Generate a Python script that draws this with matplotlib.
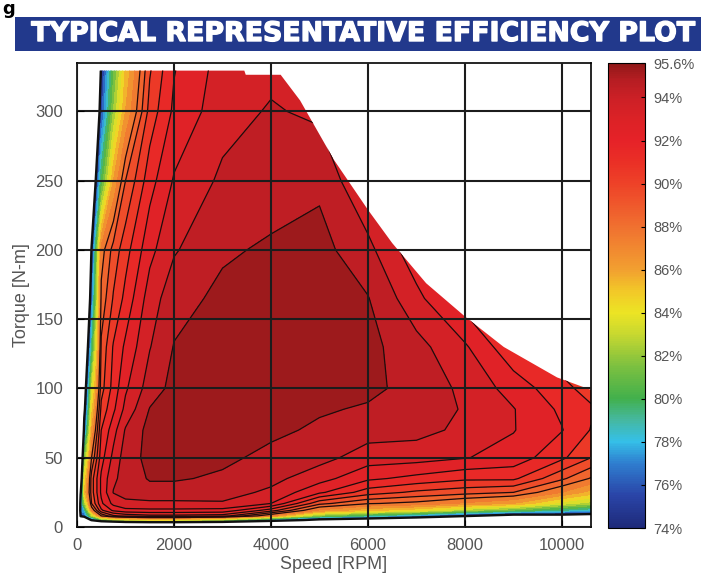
import numpy as np
import matplotlib
matplotlib.use("Agg")
import matplotlib.pyplot as plt
from matplotlib.colors import LinearSegmentedColormap, Normalize
from matplotlib.patches import Polygon, Rectangle
import matplotlib.patheffects as pe
import matplotlib.cm as cm

plt.rcParams['font.family'] = ['Liberation Sans', 'DejaVu Sans']

# efficiency map, rows = torque, columns = speed
speed = [0, 75, 150, 300, 500, 750, 1000, 1500, 2000, 3000, 4000, 5000, 6000, 7000, 8000, 9000, 10000, 10600]
torque = [0, 3, 5, 8, 12, 17, 25, 35, 50, 70, 85, 100, 130, 165, 200, 250, 300, 335]
eff = [
    [50, 50, 50, 52, 54, 55, 56, 56, 56, 56, 54, 52, 50, 48, 46, 44, 42, 40],
    [50, 60, 58, 64, 66, 68, 70, 71, 71, 70, 67, 66, 64, 62, 60, 58, 57, 55],
    [50, 68, 66, 74.5, 80, 82, 83, 84, 84, 82, 77, 72.5, 71, 69, 67, 66, 65, 64],
    [50, 74.5, 76, 82, 88, 89.8, 90.3, 90.7, 90.7, 90.5, 87, 81.3, 79, 77, 74.3, 72, 72.5, 72],
    [50, 77, 78, 87, 90.8, 92.2, 92.7, 92.8, 92.8, 92.7, 90.5, 86.8, 85.2, 84.3, 82.3, 80.8, 79, 78],
    [50, 76.5, 82, 89, 91.8, 93.3, 93.8, 93.8, 93.8, 93.9, 93.0, 89.3, 88.1, 87.7, 86.8, 86, 83.5, 82.5],
    [50, 73.5, 85, 89.5, 92.2, 94.05, 94.3, 94.6, 94.6, 94.4, 93.8, 92.2, 90.5, 89.8, 89.4, 89, 87, 85.6],
    [50, 70, 84, 89.5, 92.2, 93.8, 94.4, 95.1, 95.1, 94.85, 94.3, 93.4, 92.2, 91.7, 91.2, 91.2, 89.2, 87.9],
    [50, 66, 81, 88, 91.6, 93.3, 94.5, 95.3, 95.4, 95.2, 94.75, 94.35, 93.5, 93.4, 93.05, 92.6, 91.2, 90],
    [50, 62, 75.5, 86, 91, 92.6, 94.1, 95.35, 95.5, 95.45, 95.2, 94.85, 94.45, 94.35, 93.75, 93.05, 92.05, 90.95],
    [50, 60, 73, 84.5, 90.3, 91.8, 93.3, 95.05, 95.45, 95.5, 95.4, 95.1, 94.9, 94.6, 93.9, 93.05, 91.8, 91.15],
    [50, 58, 71.5, 83, 89.6, 91.4, 92.85, 94.5, 95.3, 95.5, 95.5, 95.3, 95.2, 94.7, 93.75, 92.6, 91.3, 90.6],
    [50, 56, 69, 79, 89.2, 91.1, 92.2, 93.95, 95.05, 95.5, 95.55, 95.4, 95.3, 94.35, 93.15, 91.2, 90.3, 89.8],
    [50, 54, 66, 76, 88.3, 90.1, 91.3, 93.5, 94.6, 95.25, 95.5, 95.45, 95.05, 93.3, 91.5, 90, 89.5, 89],
    [50, 52, 63, 74.2, 87.5, 89.4, 90.6, 92.7, 93.9, 94.85, 95.15, 95.35, 94.3, 92.3, 90.5, 89.5, 89, 88.5],
    [50, 50, 60, 69.5, 80, 86, 89, 91.6, 93.1, 94.2, 94.5, 94.8, 93, 91, 90, 89, 88.5, 88],
    [50, 50, 57, 67, 75.5, 82, 86, 90.4, 92.2, 93.6, 94.1, 93.8, 92, 90.5, 89.5, 88.5, 88, 87.5],
    [50, 50, 55, 65, 74.2, 80.5, 85, 89.8, 91.9, 93.4, 93.7, 93.2, 92, 90.5, 89.5, 88.5, 88, 87.5],
]

# max torque envelope
env_speed = [0, 3450, 3480, 4200, 4600, 5300, 6000, 6500, 7200, 8000, 8800, 9900, 10600]
env_torque = [329.5, 329.5, 326.5, 326.5, 308, 265, 229, 205, 176, 152, 130, 108, 99]

cbar_ticks = [95.6, 94, 92, 90, 88, 86, 84, 82, 80, 78, 76, 74]
cbar_labels = ['95.6%', '94%', '92%', '90%', '88%', '86%', '84%', '82%', '80%', '78%', '76%', '74%']

# colormap sampled from the colour bar
cstops = [(74, '#1e2a7a'), (75.5, '#2a45a8'), (77, '#2f7fd0'), (78, '#35c0e8'),
          (79, '#45b8a0'), (80, '#42b04c'), (81.5, '#7cc040'), (83, '#c8d830'),
          (84, '#ece424'), (85, '#f2c828'), (86, '#f2a030'), (88, '#f07030'),
          (90, '#ee4228'), (91, '#ea3026'), (92, '#e62228'), (93, '#dc2226'),
          (94, '#cc2026'), (94.9, '#b41d22'), (95.6, '#901818')]
vmin, vmax = 74, 95.6
cmap = LinearSegmentedColormap.from_list(
    'eff', [((v - vmin) / (vmax - vmin), c) for v, c in cstops])
norm = Normalize(vmin, vmax)

fig = plt.figure(figsize=(7.01, 5.87), dpi=100)

# title banner
fig.patches.append(Rectangle((15 / 701, 1 - 51 / 587), 686 / 701, 34 / 587,
                             transform=fig.transFigure, facecolor='#22398c',
                             edgecolor='none'))
fig.text(0.518, 1 - 34 / 587, 'TYPICAL REPRESENTATIVE EFFICIENCY PLOT',
         color='white', fontsize=19.3, fontweight='heavy', ha='center', va='center',
         family='DejaVu Sans',
         path_effects=[pe.withStroke(linewidth=1.0, foreground='white')])
fig.text(2 / 701, 1.0, 'g', color='black', fontsize=13, fontweight='bold',
         ha='left', va='top', family='DejaVu Sans')

ax = fig.add_axes([77 / 701, 1 - 527 / 587, 514 / 701, 464 / 587])
S, T = np.meshgrid(speed, torque)
Z = np.array(eff)

fill_levels = list(range(74, 96)) + [95.6]
cf = ax.contourf(S, T, Z, levels=fill_levels, cmap=cmap, norm=norm)
cl = ax.contour(S, T, Z, levels=list(range(88, 96)), colors='#1e0c0c', linewidths=0.9)
edge = ax.contour(S, T, Z, levels=[74], colors='#101010', linewidths=1.7)

env = Polygon([(0, 0)] + list(zip(env_speed, env_torque)) + [(10600, 0)],
              closed=True, transform=ax.transData, facecolor='none', edgecolor='none')
ax.add_patch(env)
for c in (cf, cl, edge):
    c.set_clip_path(env)

ax.set_xlim(0, 10600)
ax.set_ylim(0, 335)
ax.set_xticks([0, 2000, 4000, 6000, 8000, 10000])
ax.set_yticks([0, 50, 100, 150, 200, 250, 300])
ax.grid(True, color='#1c1c1c', linewidth=1.5)
ax.set_axisbelow(False)
ax.tick_params(direction='in', length=5, labelsize=12, labelcolor='#555555')
ax.tick_params(axis='y', pad=10)
ax.tick_params(axis='x', pad=8)
for s in ax.spines.values():
    s.set_linewidth(1.2)
ax.set_xlabel('Speed [RPM]', fontsize=13, color='#555555', labelpad=2)
ax.set_ylabel('Torque [N-m]', fontsize=13, color='#555555', labelpad=4)

cax = fig.add_axes([608 / 701, 1 - 528 / 587, 37 / 701, 465 / 587])
cb = fig.colorbar(cm.ScalarMappable(norm=norm, cmap=cmap), cax=cax)
cb.set_ticks(cbar_ticks)
cb.set_ticklabels(cbar_labels)
cb.outline.set_linewidth(0.8)
cax.tick_params(direction='in', length=3, width=0.8, labelsize=10.5,
                labelcolor='#555555', pad=6)

fig.savefig('out.png', dpi=100)
